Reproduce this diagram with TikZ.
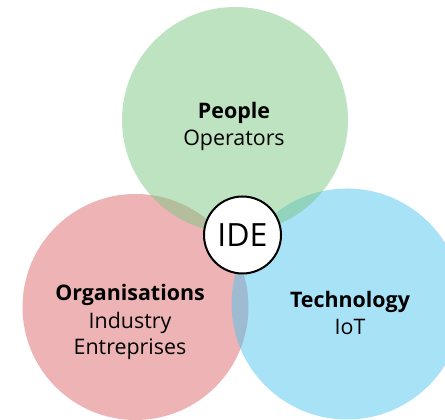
\documentclass[tikz,border=0pt]{standalone}
\usepackage{fontspec}
\setmainfont{Open Sans}
\definecolor{cgreen}{RGB}{123,199,131}
\definecolor{cred}{RGB}{219,103,107}
\definecolor{cblue}{RGB}{81,197,239}
\tikzset{
  set/.style={circle, inner sep=0pt, fill opacity=0.5, draw=none},
  txt/.style={anchor=base, font=\fontsize{21.4}{27}\selectfont, inner sep=0pt},
  hub/.style={circle, inner sep=0pt, draw=black, line width=2pt, fill=white, minimum size=77pt, font=\fontsize{32}{36}\selectfont}
}
\begin{document}
\begin{tikzpicture}[x=1pt,y=1pt]
\useasboundingbox (0,0) rectangle (445,420);
\node[set, fill=cred, minimum size=226pt] (org) at (135.5,113) {};
\node[set, fill=cblue, minimum size=231pt] (tech) at (347,116) {};
\node[set, fill=cgreen, minimum size=226pt] (people) at (235,300) {};
\node[hub] (ide) at (242.5,185) {IDE};
\node[txt] (p1) at (234,301) {\textbf{People}};
\node[txt] (p2) at (234,274) {Operators};
\node[txt] (o1) at (130,119) {\textbf{Organisations}};
\node[txt] (o2) at (130,91) {Industry};
\node[txt] (o3) at (130,65) {Entreprises};
\node[txt] (t1) at (350,112) {\textbf{Technology}};
\node[txt] (t2) at (350,85) {IoT};
\end{tikzpicture}
\end{document}
